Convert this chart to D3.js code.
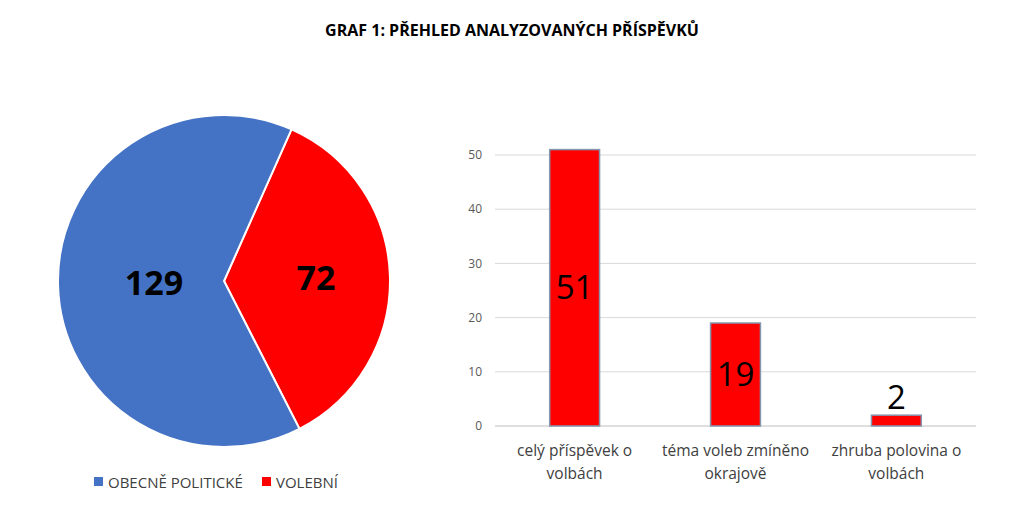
<!DOCTYPE html>
<html><head><meta charset="utf-8">
<script src="https://cdn.jsdelivr.net/npm/d3@7"></script>
<style>body{margin:0;background:#fff;font-family:"Open Sans",sans-serif}</style>
</head><body>
<svg width="1023" height="512"></svg>
<script>
const pieLabels = ["OBECNĚ POLITICKÉ", "VOLEBNÍ"];
const pieValues = [129, 72];
const pieColors = ["#4472c4", "#ff0000"];
const barCategories = [["celý příspěvek o", "volbách"], ["téma voleb zmíněno", "okrajově"], ["zhruba polovina o", "volbách"]];
const barValues = [51, 19, 2];
const yTicks = [0, 10, 20, 30, 40, 50];

const svg = d3.select("svg");
svg.append("text").attr("x", 512).attr("y", 36).attr("text-anchor", "middle")
  .attr("font-size", 16).attr("font-weight", "bold").text("GRAF 1: PŘEHLED ANALYZOVANÝCH PŘÍSPĚVKŮ");

// pie: red slice drawn first, clockwise from near the top
const off = 24 * Math.PI / 180;
const slices = pieValues.map((v, i) => ({ v, i })).reverse();
const pie = d3.pie().sort(null).value(d => d.v).startAngle(off).endAngle(off + 2 * Math.PI);
const arcs = pie(slices);
const arc = d3.arc().innerRadius(0).outerRadius(166);
const gp = svg.append("g").attr("transform", "translate(224,281)");
gp.selectAll("path").data(arcs).enter().append("path")
  .attr("d", arc).attr("fill", d => pieColors[d.data.i]).attr("stroke", "#fff").attr("stroke-width", 2);
gp.selectAll("text").data(arcs).enter().append("text")
  .attr("transform", d => {
    const r = d.data.i ? 92 : 70;
    const c = d3.arc().innerRadius(r).outerRadius(r).centroid(d);
    return `translate(${c[0]},${c[1]})`;
  })
  .attr("text-anchor", "middle").attr("dy", "0.35em").attr("font-size", 34).attr("font-weight", "bold")
  .text(d => d.data.v);

const lg = svg.append("g").attr("font-size", 15);
pieLabels.forEach((t, i) => {
  const x = [94, 262][i];
  lg.append("rect").attr("x", x).attr("y", 477).attr("width", 9).attr("height", 9).attr("fill", pieColors[i]);
  lg.append("text").attr("x", x + 14).attr("y", 488).attr("fill", "#404040").text(t);
});

// bars
const x = d3.scaleBand().domain(d3.range(barValues.length)).range([495, 976]).paddingInner(0.69).paddingOuter(0.34);
const y = d3.scaleLinear().domain([0, 50]).range([426, 155]);
const gb = svg.append("g");
gb.selectAll("line.g").data(yTicks).enter().append("line")
  .attr("x1", 495).attr("x2", 976).attr("y1", d => y(d)).attr("y2", d => y(d))
  .attr("stroke", d => d ? "#d9d9d9" : "#bfbfbf");
gb.selectAll("text.t").data(yTicks).enter().append("text")
  .attr("x", 482).attr("y", d => y(d)).attr("dy", "0.35em").attr("text-anchor", "end")
  .attr("font-size", 12).attr("fill", "#595959").text(d => d);
gb.selectAll("rect").data(barValues).enter().append("rect")
  .attr("x", (d, i) => x(i)).attr("width", x.bandwidth())
  .attr("y", d => y(d)).attr("height", d => y(0) - y(d))
  .attr("fill", "#ff0000").attr("stroke", "#8497b0").attr("stroke-width", 1.5);
gb.selectAll("text.v").data(barValues).enter().append("text")
  .attr("x", (d, i) => x(i) + x.bandwidth() / 2)
  .attr("y", d => d > 5 ? (y(d) + y(0)) / 2 : y(d) - 6)
  .attr("dy", d => d > 5 ? "0.35em" : 0)
  .attr("text-anchor", "middle").attr("font-size", 33).text(d => d);
barCategories.forEach((lines, i) => {
  lines.forEach((l, j) => {
    gb.append("text").attr("x", x(i) + x.bandwidth() / 2).attr("y", 456 + j * 23)
      .attr("text-anchor", "middle").attr("font-size", 15.5).attr("fill", "#404040").text(l);
  });
});
</script>
</body></html>
